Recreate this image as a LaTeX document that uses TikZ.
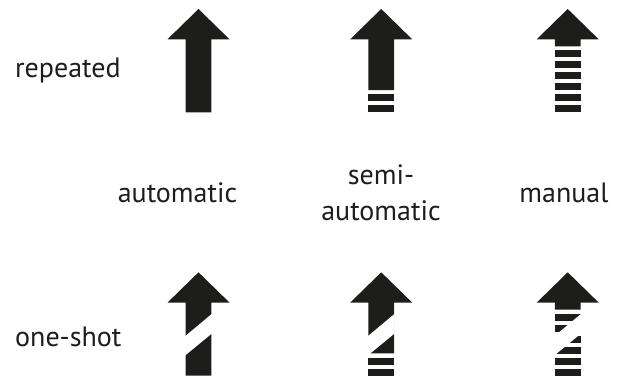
\documentclass[tikz,border=0pt]{standalone}
\usepackage{fontspec}
\setmainfont{PT Sans}
\definecolor{ink}{HTML}{1D1D1B}
\tikzset{
  lbl/.style={inner sep=0pt, text=ink, font=\fontsize{28}{35.7}\selectfont},
  solidarrow/.pic={
    \fill[ink] (0,0) -- (31,30.3) -- (12.8,30.3) -- (12.8,103.3) -- (-12.8,103.3) -- (-12.8,30.3) -- (-31,30.3) -- cycle;
  },
  semiarrow/.pic={
    \fill[ink] (0,0) -- (31,30.3) -- (12.8,30.3) -- (12.8,81) -- (-12.8,81) -- (-12.8,30.3) -- (-31,30.3) -- cycle;
    \fill[ink] (-12.8,85.3) rectangle (12.8,92.3);
    \fill[ink] (-12.8,96.3) rectangle (12.8,103.3);
  },
  manualarrow/.pic={
    \fill[ink] (0,0) -- (31,30.3) -- (12.8,30.3) -- (12.8,37.3) -- (-12.8,37.3) -- (-12.8,30.3) -- (-31,30.3) -- cycle;
    \foreach \k in {0,...,5}{
      \fill[ink] (-12.8,41.3+11*\k) rectangle (12.8,48.3+11*\k);
    }
  },
  band/.pic={
    \begin{scope}
      \clip (-13.5,30.8) rectangle (13.5,104);
      \fill[white] (14,41.0) -- (-14,64.4) -- (-14,83.7) -- (14,60.7) -- cycle;
    \end{scope}
  }
}
\begin{document}
\begin{tikzpicture}[x=1pt,y=-1pt]
\useasboundingbox (0,0) rectangle (618,378);
% top row
\pic at (198.5,9) {solidarrow};
\pic at (381.2,9) {semiarrow};
\pic at (567.7,9) {manualarrow};
% bottom row
\pic at (198.5,272.3) {solidarrow};
\pic at (198.5,272.3) {band};
\pic at (381.2,272.3) {semiarrow};
\pic at (381.2,272.3) {band};
\pic at (567.7,272.3) {manualarrow};
\pic at (567.7,272.3) {band};
% labels
\node[lbl, anchor=base west] (lrep) at (15,77.3) {repeated};
\node[lbl, anchor=base west] (lone) at (15,346) {one-shot};
\node[lbl, anchor=base] (lauto) at (177.5,202) {automatic};
\node[lbl, anchor=base, align=center] (lsemi) at (381,220) {semi-\\automatic};
\node[lbl, anchor=base] (lman) at (564,202) {manual};
\end{tikzpicture}
\end{document}
